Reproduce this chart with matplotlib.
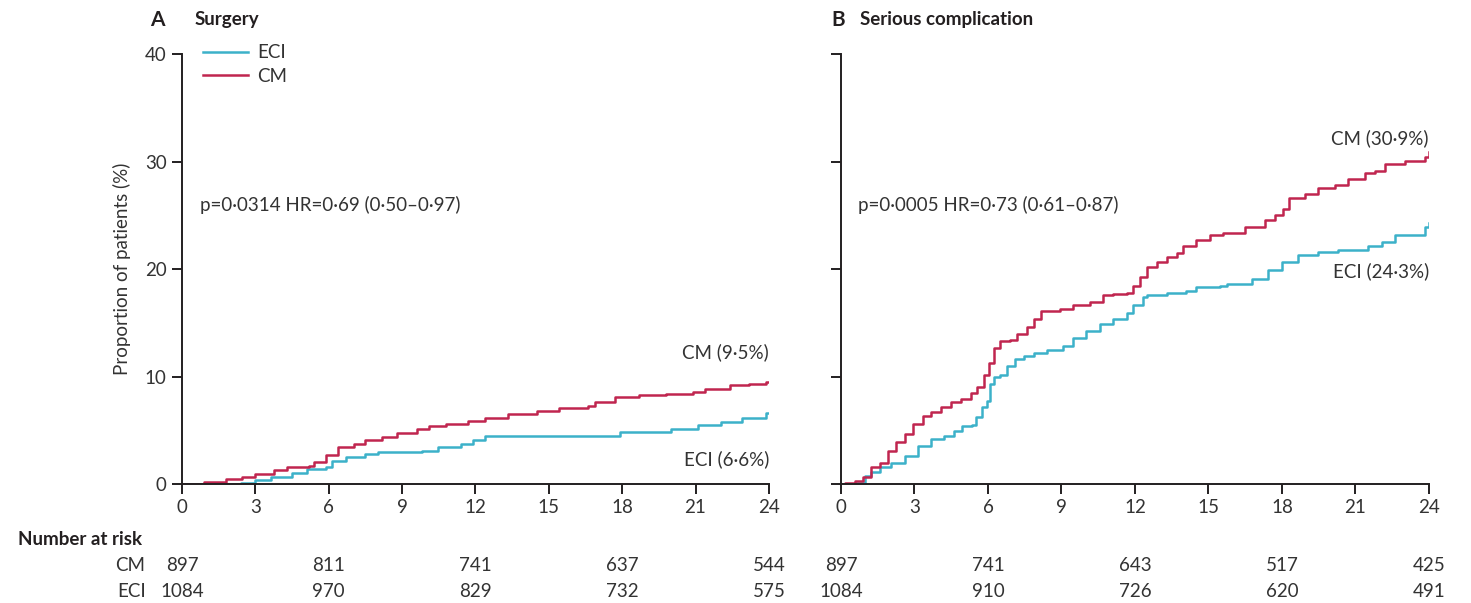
import matplotlib.pyplot as plt
import matplotlib.transforms as mtransforms

plt.rcParams['font.family'] = ['Lato', 'DejaVu Sans']

# cumulative incidence curves (months, %)
surg_cm_t = [0, 0.9, 1.8, 2.45, 3.0, 3.75, 4.3, 5.2, 5.4, 5.9, 6.4, 7.05, 7.5, 8.2, 8.8, 9.6,
             10.1, 10.8, 11.7, 12.4, 13.35, 14.5, 15.4, 16.6, 16.9, 17.7, 18.7, 19.8, 20.9,
             21.4, 22.4, 23.2, 23.9, 24]
surg_cm_v = [0, 0.2, 0.43, 0.68, 0.93, 1.3, 1.55, 1.67, 2.07, 2.7, 3.4, 3.77, 4.07, 4.4, 4.75,
             5.15, 5.37, 5.6, 5.9, 6.1, 6.5, 6.8, 7.1, 7.3, 7.6, 8.1, 8.25, 8.4, 8.6, 8.8,
             9.17, 9.3, 9.5, 9.5]
surg_eci_t = [0, 2.4, 3.0, 3.65, 4.5, 5.1, 5.9, 6.15, 6.7, 7.5, 8.0, 9.8, 10.45, 11.4, 11.9,
              12.4, 17.9, 20.0, 21.1, 22.05, 22.9, 23.9, 24]
surg_eci_v = [0, 0.1, 0.37, 0.68, 1.0, 1.36, 1.6, 2.16, 2.5, 2.8, 2.96, 3.09, 3.45, 3.77, 4.07,
              4.44, 4.85, 5.15, 5.52, 5.77, 6.17, 6.6, 6.6]

comp_cm_t = [0, 0.16, 0.57, 0.9, 1.24, 1.58, 1.92, 2.26, 2.6, 2.93, 3.34, 3.68, 4.08, 4.49,
             4.89, 5.3, 5.57, 5.84, 6.04, 6.24, 6.51, 6.92, 7.19, 7.6, 7.86, 8.15, 8.94,
             9.48, 10.16, 10.71, 11.12, 11.66, 11.93, 12.2, 12.48, 12.88, 13.3, 13.7, 13.97,
             14.5, 15.06, 15.6, 16.5, 17.3, 17.7, 18.05, 18.3, 18.94, 19.48, 20.16, 20.7,
             21.4, 21.8, 22.2, 23.02, 23.84, 24]
comp_cm_v = [0, 0.06, 0.3, 0.68, 1.55, 2.0, 3.1, 3.88, 4.65, 5.58, 6.36, 6.67, 7.13, 7.6,
             7.9, 8.43, 9.05, 10.1, 11.3, 12.7, 13.3, 13.4, 13.95, 14.6, 15.35, 16.1, 16.3,
             16.65, 16.96, 17.6, 17.7, 17.75, 18.4, 19.3, 20.2, 20.7, 21.1, 21.5, 22.1,
             22.7, 23.2, 23.4, 23.9, 24.6, 25.0, 25.6, 26.57, 27.0, 27.5, 27.8, 28.4,
             28.9, 29.1, 29.8, 30.07, 30.4, 30.9]
comp_eci_t = [0, 0.57, 0.97, 1.24, 1.58, 2.05, 2.6, 3.14, 3.68, 4.22, 4.62, 4.96, 5.36, 5.5,
              5.77, 5.97, 6.1, 6.24, 6.51, 6.78, 7.12, 7.46, 7.86, 8.4, 9.08, 9.48, 10.0,
              10.57, 11.12, 11.66, 11.93, 12.34, 12.48, 13.3, 14.1, 14.5, 15.47, 15.74,
              16.76, 17.44, 17.99, 18.67, 19.48, 20.3, 21.5, 22.07, 22.6, 23.5, 23.84, 24]
comp_eci_v = [0, 0.06, 0.78, 1.09, 1.55, 2.0, 2.64, 3.57, 4.19, 4.5, 4.9, 5.43, 5.52, 6.2,
              7.13, 7.75, 9.3, 9.92, 10.17, 11.0, 11.6, 11.9, 12.15, 12.5, 12.8, 13.55, 14.2,
              14.9, 15.4, 15.9, 16.65, 17.4, 17.6, 17.75, 18.0, 18.3, 18.4, 18.6,
              19.1, 19.9, 20.68, 21.3, 21.6, 21.8, 22.1, 22.5, 23.2, 23.2, 23.9, 24.3]

risk_times = [0, 6, 12, 18, 24]
surg_risk_cm = [897, 811, 741, 637, 544]
surg_risk_eci = [1084, 970, 829, 732, 575]
comp_risk_cm = [897, 741, 643, 517, 425]
comp_risk_eci = [1084, 910, 726, 620, 491]

x_ticks = [0, 3, 6, 9, 12, 15, 18, 21, 24]
y_ticks = [0, 10, 20, 30, 40]

ECI_COL = '#3cb1c9'
CM_COL = '#c0254f'
TXT = '#231f20'
GREY = '#333333'

fig = plt.figure(figsize=(14.71, 6.03), dpi=100)
axA = fig.add_axes([0.1237, 0.1973, 0.399, 0.713])
axB = fig.add_axes([0.5717, 0.1973, 0.3997, 0.713])


def style_axis(ax, show_ylabels):
    ax.set_xlim(0, 24)
    ax.set_ylim(0, 40)
    ax.spines['top'].set_visible(False)
    ax.spines['right'].set_visible(False)
    for s in ['left', 'bottom']:
        ax.spines[s].set_linewidth(1.4)
        ax.spines[s].set_color(TXT)
    ax.set_xticks(x_ticks)
    ax.set_yticks(y_ticks)
    ax.tick_params(direction='out', length=7, width=1.4, colors=TXT,
                   labelsize=13.5, labelcolor=GREY, pad=4)
    if not show_ylabels:
        ax.set_yticklabels([])


def risk_table(ax, cm, eci, labels):
    trans = mtransforms.blended_transform_factory(ax.transData, ax.transAxes)
    for t, a, b in zip(risk_times, cm, eci):
        ax.text(t, -0.19, str(a), transform=trans, ha='center', va='center',
                fontsize=13.5, color=GREY)
        ax.text(t, -0.251, str(b), transform=trans, ha='center', va='center',
                fontsize=13.5, color=GREY)
    if labels:
        ax.text(-0.062, -0.19, 'CM', transform=ax.transAxes, ha='right', va='center',
                fontsize=13.5, color=GREY)
        ax.text(-0.062, -0.251, 'ECI', transform=ax.transAxes, ha='right', va='center',
                fontsize=13.5, color=GREY)
        ax.text(-0.279, -0.13, 'Number at risk', transform=ax.transAxes, ha='left',
                va='center', fontsize=13.5, fontweight='bold', color=TXT)


# A: surgery
axA.step(surg_eci_t, surg_eci_v, where='post', color=ECI_COL, lw=1.8, label='ECI')
axA.step(surg_cm_t, surg_cm_v, where='post', color=CM_COL, lw=1.8, label='CM')
style_axis(axA, True)
axA.set_ylabel('Proportion of patients (%)', fontsize=13.5, color=GREY, labelpad=10)
axA.text(0.74, 26, 'p=0·0314 HR=0·69 (0·50–0·97)', fontsize=13.5, color=GREY, va='center')
axA.text(24, 12.3, 'CM (9·5%)', fontsize=13.5, color=GREY, ha='right', va='center')
axA.text(24, 2.3, 'ECI (6·6%)', fontsize=13.5, color=GREY, ha='right', va='center')
leg = axA.legend(loc='upper left', bbox_to_anchor=(0.02, 1.045), frameon=False,
                 handlelength=2.4, handletextpad=0.5, labelspacing=0.35, fontsize=13.5,
                 borderpad=0)
for t in leg.get_texts():
    t.set_color(GREY)
risk_table(axA, surg_risk_cm, surg_risk_eci, True)

# B: serious complication
axB.step(comp_eci_t, comp_eci_v, where='post', color=ECI_COL, lw=1.8)
axB.step(comp_cm_t, comp_cm_v, where='post', color=CM_COL, lw=1.8)
style_axis(axB, False)
axB.text(0.7, 26, 'p=0·0005 HR=0·73 (0·61–0·87)', fontsize=13.5, color=GREY, va='center')
axB.text(24, 32.2, 'CM (30·9%)', fontsize=13.5, color=GREY, ha='right', va='center')
axB.text(24, 19.8, 'ECI (24·3%)', fontsize=13.5, color=GREY, ha='right', va='center')
risk_table(axB, comp_risk_cm, comp_risk_eci, False)

# panel titles
fig.text(150 / 1471, 1 - 20 / 603, 'A', fontsize=15, fontweight='bold', color=TXT, va='center')
fig.text(195 / 1471, 1 - 20 / 603, 'Surgery', fontsize=13.5, fontweight='bold', color=TXT,
         va='center')
fig.text(831 / 1471, 1 - 20 / 603, 'B', fontsize=15, fontweight='bold', color=TXT, va='center')
fig.text(860 / 1471, 1 - 20 / 603, 'Serious complication', fontsize=13.5, fontweight='bold',
         color=TXT, va='center')

fig.savefig('out.png', dpi=100)
